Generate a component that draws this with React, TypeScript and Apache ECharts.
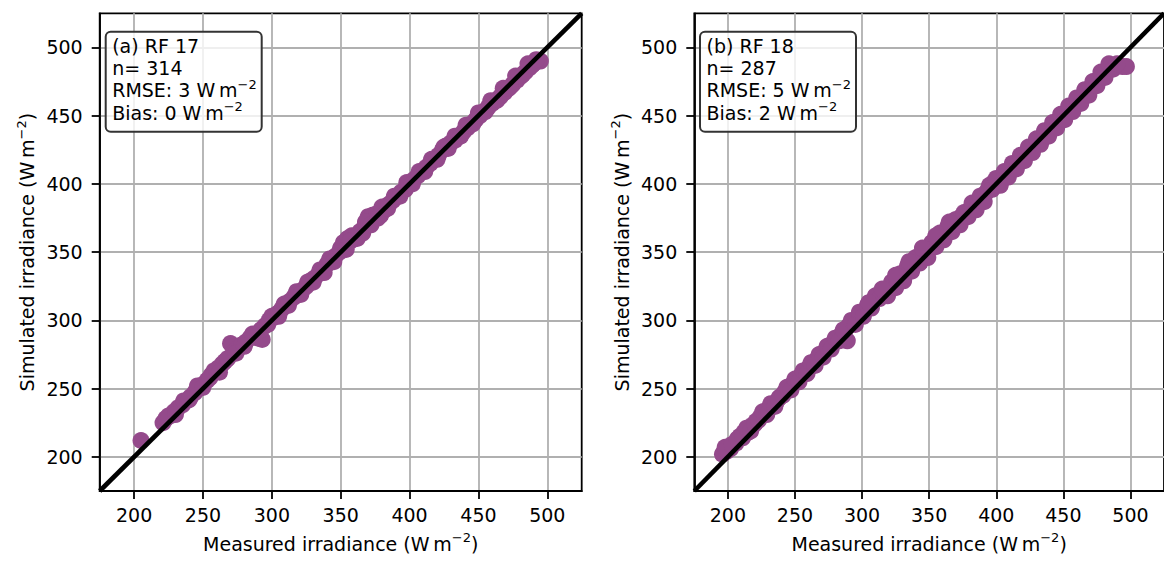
import React, { useEffect, useRef } from "react";
import * as echarts from "echarts";

const tickValues = [200, 250, 300, 350, 400, 450, 500];
const axisMin = 175;
const axisMax = 525;
const xLabel = "Measured irradiance (W\u2009m{s|\u22122})";
const yLabel = "Simulated irradiance (W\u2009m{s|\u22122})";

const boxA = ["(a) RF 17", "n= 314", "RMSE: 3 W\u2009m{s|\u22122}", "Bias: 0 W\u2009m{s|\u22122}"];
const boxB = ["(b) RF 18", "n= 287", "RMSE: 5 W\u2009m{s|\u22122}", "Bias: 2 W\u2009m{s|\u22122}"];

const rf17: number[][] = [
  [205, 212], [221, 225], [223, 228], [226, 230], [229, 233], [232, 236], [235, 238], [238, 241],
  [241, 244], [244, 247], [247, 250], [250, 253], [253, 256], [256, 260], [258, 263], [261, 265],
  [264, 268], [266, 270], [270, 283], [272, 276], [275, 279], [278, 282], [281, 284], [284, 287],
  [287, 289], [290, 287], [293, 286], [295, 296], [298, 300], [301, 302], [304, 305], [307, 308],
  [310, 311], [313, 314], [316, 317], [319, 320], [322, 322], [325, 325], [328, 329], [331, 331],
  [334, 334], [337, 337], [340, 341], [343, 343], [346, 347], [349, 350], [352, 357], [355, 360],
  [358, 362], [361, 362], [364, 365], [367, 368], [370, 376], [373, 377], [376, 378], [379, 377],
  [382, 381], [385, 385], [388, 388], [391, 391], [394, 394], [397, 396], [400, 400], [403, 403],
  [406, 406], [409, 409], [412, 412], [415, 415], [418, 418], [421, 421], [424, 425], [427, 428],
  [430, 430], [433, 432], [436, 435], [439, 438], [442, 441], [445, 444], [448, 447], [451, 450],
  [454, 453], [457, 456], [460, 459], [463, 461], [466, 464], [469, 467], [472, 470], [475, 473],
  [478, 476], [481, 479], [484, 482], [487, 485], [490, 488], [493, 490], [495, 490],
  [225, 230], [230, 231], [236, 241], [240, 242], [246, 252], [250, 251], [255, 258], [260, 263],
  [262, 262], [268, 272], [274, 276], [280, 281], [286, 290], [292, 293], [297, 297], [300, 303],
  [305, 303], [309, 312], [312, 311], [318, 321], [321, 319], [326, 328], [330, 328], [335, 337],
  [338, 335], [342, 345], [345, 343], [350, 353], [354, 352], [357, 358], [362, 360], [366, 364],
  [368, 372], [372, 370], [377, 375], [380, 383], [384, 382], [389, 391], [393, 391], [398, 401],
  [402, 400], [407, 409], [411, 409], [416, 418], [420, 418], [425, 427], [428, 426], [433, 435],
  [437, 435], [441, 443], [446, 444], [450, 452], [455, 453], [459, 461], [464, 462], [468, 470],
  [473, 471], [477, 479], [482, 480], [486, 488], [489, 487], [492, 491],
];

const rf18: number[][] = [
  [196, 202], [199, 204], [202, 206], [206, 210], [209, 215], [212, 218], [215, 218], [218, 223],
  [221, 226], [224, 229], [227, 232], [230, 235], [233, 238], [236, 240], [239, 244], [242, 247],
  [245, 250], [248, 253], [251, 256], [254, 259], [257, 262], [260, 265], [263, 268], [266, 271],
  [269, 274], [272, 277], [275, 280], [278, 283], [281, 286], [284, 289], [287, 292], [289, 285],
  [290, 296], [293, 299], [296, 301], [299, 304], [302, 307], [305, 310], [308, 314], [311, 317],
  [314, 319], [317, 320], [320, 323], [323, 326], [326, 330], [329, 333], [332, 336], [335, 339],
  [338, 341], [341, 344], [344, 347], [347, 350], [350, 352], [353, 356], [356, 359], [359, 362],
  [362, 365], [365, 368], [368, 371], [371, 373], [374, 376], [377, 378], [380, 381], [383, 384],
  [386, 387], [389, 390], [392, 393], [395, 399], [398, 401], [401, 402], [404, 405], [407, 407],
  [410, 410], [413, 413], [416, 416], [419, 419], [422, 422], [425, 425], [428, 428], [431, 431],
  [434, 434], [437, 437], [440, 440], [443, 443], [446, 446], [449, 449], [452, 452], [455, 455],
  [458, 458], [461, 461], [464, 464], [467, 467], [470, 470], [473, 473], [476, 476], [479, 480],
  [482, 483], [485, 486], [488, 486], [491, 487], [494, 486], [497, 486],
  [198, 207], [203, 209], [207, 213], [211, 214], [214, 221], [217, 219], [220, 224], [223, 227],
  [226, 233], [229, 231], [232, 239], [235, 237], [238, 243], [241, 245], [244, 251], [247, 249],
  [250, 257], [253, 255], [256, 263], [259, 261], [262, 269], [265, 267], [268, 275], [271, 273],
  [274, 281], [277, 279], [280, 287], [283, 285], [286, 293], [292, 300], [295, 297], [298, 306],
  [301, 303], [304, 311], [307, 309], [310, 318], [313, 316], [316, 322], [319, 318], [322, 328],
  [325, 324], [328, 334], [331, 329], [334, 340], [337, 336], [340, 346], [343, 342], [346, 352],
  [349, 346], [352, 357], [355, 354], [358, 364], [361, 359], [364, 369], [367, 365], [370, 374],
  [373, 370], [376, 379], [379, 376], [382, 386], [385, 381], [388, 391], [391, 387], [394, 396],
  [397, 396], [400, 404], [403, 399], [406, 409], [409, 405], [412, 415], [415, 411], [418, 421],
  [421, 417], [424, 427], [427, 423], [430, 433], [433, 429], [436, 439], [439, 435], [442, 445],
  [445, 441], [448, 451], [451, 447], [454, 457], [457, 453], [460, 463], [463, 459], [466, 469],
  [469, 465], [472, 475], [475, 472], [478, 482], [481, 478], [484, 488], [487, 484], [490, 488],
  [305, 313], [315, 323], [325, 333], [335, 343], [345, 353], [355, 362], [365, 372],
];

const oneToOne: number[][] = [
  [axisMin, axisMin],
  [axisMax, axisMax],
];

const FONT = "DejaVu Sans";
const FS = 19;
const LH = 25;
const MARKER = "#944a8b";
const richStyles = {
  s: { fontSize: 13, lineHeight: 13, fontFamily: FONT, color: "#000", verticalAlign: "top" },
};

function makeAxis(gridIndex: number, name: string, isX: boolean) {
  return {
    type: "value",
    gridIndex,
    min: axisMin,
    max: axisMax,
    splitNumber: 7,
    name,
    nameLocation: "middle",
    nameGap: isX ? 40 : 60,
    nameTextStyle: {
      fontSize: FS,
      lineHeight: LH,
      color: "#000",
      fontFamily: FONT,
      rich: richStyles,
    },
    axisLine: { show: true, lineStyle: { color: "#000", width: 1.8 } },
    axisTick: {
      show: true,
      inside: false,
      length: 8,
      customValues: tickValues,
      lineStyle: { color: "#000", width: 1.8 },
    },
    axisLabel: {
      customValues: tickValues,
      fontSize: FS,
      color: "#000",
      fontFamily: FONT,
      margin: isX ? 14 : 17,
    },
    splitLine: { show: true, lineStyle: { color: "#b0b0b0", width: 1.8 } },
  };
}

function makeBox(x: number, w: number, lines: string[]) {
  const children: any[] = [
    {
      type: "rect",
      shape: { x, y: 31.7, width: w, height: 100, r: 5 },
      style: { fill: "rgba(255,255,255,0.8)", stroke: "#333", lineWidth: 2 },
      z: 100,
    },
  ];
  lines.forEach((t, i) => {
    children.push({
      type: "text",
      x: x + 6.5,
      y: 45.5 + i * 22.4,
      style: {
        text: t,
        fontSize: FS,
        lineHeight: LH,
        fontFamily: FONT,
        fill: "#000",
        verticalAlign: "middle",
        align: "left",
        rich: richStyles,
      },
      z: 101,
    });
  });
  return children;
}

export default function App() {
  const ref = useRef<HTMLDivElement>(null);
  useEffect(() => {
    if (!ref.current) return;
    const chart = echarts.init(ref.current, null, { renderer: "svg" });
    const grids = [
      { left: 99.7, top: 13.3, width: 482, height: 482 },
      { left: 694.3, top: 13.3, width: 482, height: 482 },
    ].map((g) => ({
      ...g,
      show: true,
      borderColor: "#000",
      borderWidth: 1.8,
      backgroundColor: "transparent",
      containLabel: false,
    }));
    const option: any = {
      animation: false,
      backgroundColor: "#fff",
      textStyle: { fontFamily: FONT },
      grid: grids,
      xAxis: [makeAxis(0, xLabel, true), makeAxis(1, xLabel, true)],
      yAxis: [makeAxis(0, yLabel, false), makeAxis(1, yLabel, false)],
      series: [
        {
          type: "scatter",
          xAxisIndex: 0,
          yAxisIndex: 0,
          data: rf17,
          symbolSize: 17,
          itemStyle: { color: MARKER, opacity: 1 },
          z: 2,
        },
        {
          type: "scatter",
          xAxisIndex: 1,
          yAxisIndex: 1,
          data: rf18,
          symbolSize: 17,
          itemStyle: { color: MARKER, opacity: 1 },
          z: 2,
        },
        {
          type: "line",
          xAxisIndex: 0,
          yAxisIndex: 0,
          data: oneToOne,
          showSymbol: false,
          symbol: "none",
          lineStyle: { color: "#000", width: 4.6 },
          z: 3,
        },
        {
          type: "line",
          xAxisIndex: 1,
          yAxisIndex: 1,
          data: oneToOne,
          showSymbol: false,
          symbol: "none",
          lineStyle: { color: "#000", width: 4.6 },
          z: 3,
        },
      ],
      graphic: [...makeBox(105.7, 156, boxA), ...makeBox(700, 156, boxB)],
    };
    chart.setOption(option);
    return () => chart.dispose();
  }, []);
  return (
    <div
      ref={ref}
      style={{ position: "fixed", left: 0, top: 0, width: 1164, height: 561, background: "#fff" }}
    />
  );
}
